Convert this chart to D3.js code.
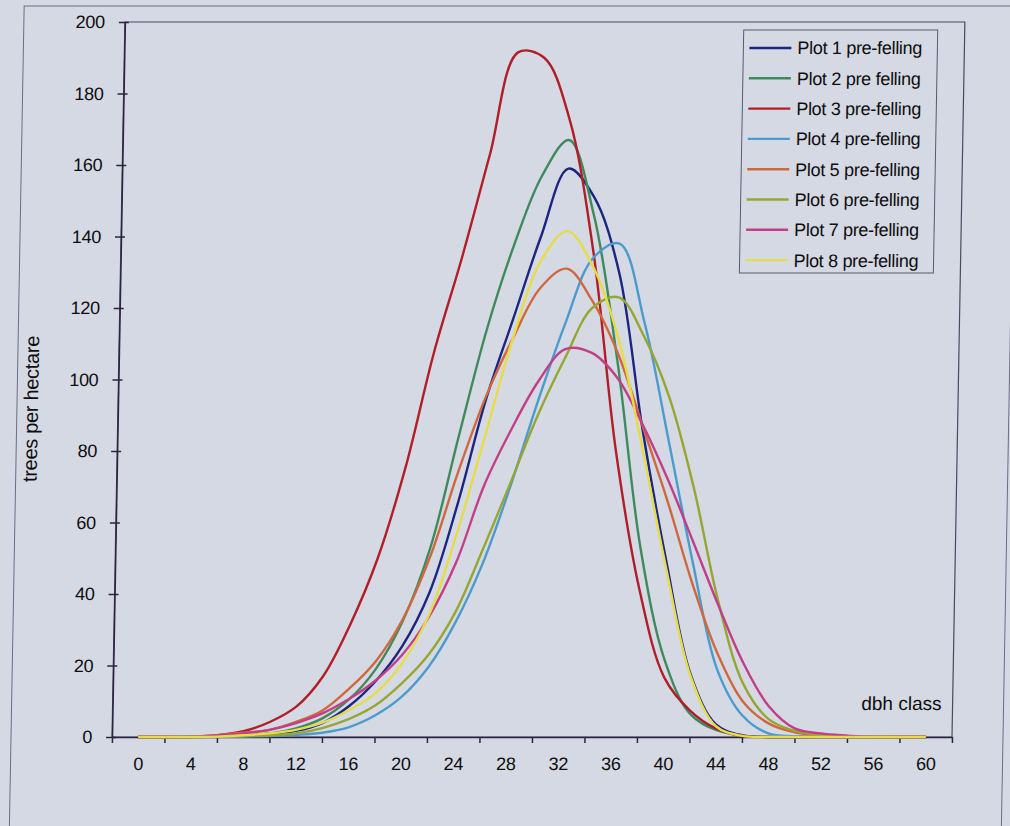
<!DOCTYPE html>
<html>
<head>
<meta charset="utf-8">
<script src="https://cdn.jsdelivr.net/npm/d3@7"></script>
<style>
  body { margin: 0; background: #d5d9e4; }
  svg { display: block; }
  text { font-family: "Liberation Sans", Arial, Helvetica, sans-serif; fill: #0e0e0e; }
</style>
</head>
<body>
<div id="chart"></div>
<script>
// dbh classes (cm) and trees per hectare
const dbhClass = [0, 2, 4, 6, 8, 10, 12, 14, 16, 18, 20, 22, 24, 26, 28, 30,
                  32, 34, 36, 38, 40, 42, 44, 46, 48, 50, 52, 54, 56, 58, 60];

const plot1 = [0, 0, 0, 0.1, 0.4, 0.9, 1.7, 3.9, 8.6, 15.6, 25.5, 40.5, 65, 94, 117, 140,
               159, 151, 130, 86, 49, 17.5, 3.5, 0.5, 0, 0, 0, 0, 0, 0, 0];
const plot2 = [0, 0, 0, 0.1, 0.5, 0.9, 2.4, 5.2, 10.5, 19, 32.5, 53, 84, 114, 138, 157,
               167, 146, 105, 53, 21.5, 6.5, 2, 0.4, 0, 0, 0, 0, 0, 0, 0];
const plot3 = [0, 0, 0.1, 0.5, 1.6, 4.2, 8.5, 17, 31.5, 50, 75.5, 107.5, 134, 163, 191.5, 190,
               173, 136, 80, 41, 16.6, 7.4, 2.4, 0.3, 0, 0, 0, 0, 0, 0, 0];
const plot4 = [0, 0, 0, 0, 0.1, 0.3, 0.6, 1.2, 2.7, 6, 11.2, 19.5, 32, 48.5, 70, 94,
               116, 134, 138, 116, 83, 49, 19, 6, 1, 0.2, 0, 0, 0, 0, 0];
const plot5 = [0, 0, 0, 0.5, 1.2, 2, 4.2, 7.4, 13.5, 21.2, 33, 50.5, 74, 95, 111.5, 125.5,
               131, 122, 107.5, 87, 66, 43, 23.5, 10, 3.8, 1.3, 0.4, 0, 0, 0, 0];
const plot6 = [0, 0, 0, 0.1, 0.3, 0.5, 1, 2.5, 5, 8.8, 15, 23, 35, 52.5, 71, 90,
               106, 120, 123, 112, 95, 69.5, 38, 15, 5, 1.7, 0.5, 0, 0, 0, 0];
const plot7 = [0, 0, 0, 0.4, 1, 2, 3.9, 6.6, 10.6, 15.8, 23, 33.7, 49, 70.3, 86, 99.5,
               108.5, 107.5, 100.5, 87.4, 72, 54.7, 37, 20.7, 8.6, 2.4, 1, 0.4, 0, 0, 0];
const plot8 = [0, 0, 0, 0.1, 0.5, 1, 2, 4, 7.5, 12.2, 20.6, 34.3, 57, 84, 111.5, 133,
               141.5, 131.6, 112, 81, 47, 17, 3, 0.3, 0, 0, 0, 0, 0, 0, 0];

const seriesNames = ['Plot 1 pre-felling', 'Plot 2 pre felling', 'Plot 3 pre-felling',
                     'Plot 4 pre-felling', 'Plot 5 pre-felling', 'Plot 6 pre-felling',
                     'Plot 7 pre-felling', 'Plot 8 pre-felling'];
const seriesColors = ['#1c2680', '#3f8a5c', '#b01e26', '#4b9bcd',
                      '#d0683e', '#97a632', '#c23f88', '#e6dc48'];
const seriesValues = [plot1, plot2, plot3, plot4, plot5, plot6, plot7, plot8];

const yTicks = [0, 20, 40, 60, 80, 100, 120, 140, 160, 180, 200];
const xTickLabels = [0, 4, 8, 12, 16, 20, 24, 28, 32, 36, 40, 44, 48, 52, 56, 60];

const width = 1010, height = 826;
const plotLeft = 112, plotRight = 952, plotTop = 22, plotBottom = 737;
// the scanned page leans slightly to the right towards the top
const lean = 0.018;

const svg = d3.select('#chart')
    .append('svg')
    .attr('width', width)
    .attr('height', height);

svg.append('rect')
    .attr('width', width)
    .attr('height', height)
    .attr('fill', '#d5d9e4');

const g = svg.append('g')
    .attr('transform', `translate(${(plotBottom * lean).toFixed(2)},0) skewX(${(-Math.atan(lean) * 180 / Math.PI).toFixed(3)})`);

// outer chart border
g.append('rect')
    .attr('x', 11).attr('y', 6)
    .attr('width', 992).attr('height', 900)
    .attr('fill', 'none')
    .attr('stroke', '#6e6c86')
    .attr('stroke-width', 1);

const x = d3.scaleLinear().domain([-2, 62]).range([plotLeft, plotRight]);
const y = d3.scaleLinear().domain([0, 200]).range([plotBottom, plotTop]);

// plot area border
g.append('rect')
    .attr('x', plotLeft).attr('y', plotTop)
    .attr('width', plotRight - plotLeft).attr('height', plotBottom - plotTop)
    .attr('fill', 'none')
    .attr('stroke', '#4c4864')
    .attr('stroke-width', 1.2);

// y axis
const yAxis = g.append('g')
    .attr('transform', `translate(${plotLeft},0)`)
    .call(d3.axisLeft(y).tickValues(yTicks).tickSize(6).tickSizeOuter(0).tickPadding(14));
yAxis.selectAll('.tick line').attr('x1', 4).attr('x2', -6);
yAxis.selectAll('text')
    .attr('font-size', 18)
    .attr('letter-spacing', -0.3)
    .attr('font-family', '"Liberation Sans", Arial, sans-serif')
    .attr('fill', '#0e0e0e');

// x axis labels (category centres)
const xAxis = g.append('g')
    .attr('transform', `translate(0,${plotBottom})`)
    .call(d3.axisBottom(x).tickValues(xTickLabels).tickSize(0).tickPadding(20));
xAxis.select('.domain').remove();
xAxis.selectAll('text')
    .attr('font-size', 18)
    .attr('letter-spacing', -0.3)
    .attr('font-family', '"Liberation Sans", Arial, sans-serif')
    .attr('fill', '#0e0e0e');

// x axis tick marks sit between the labels
const xTickMarks = xTickLabels.map(d => d - 2).concat([xTickLabels[xTickLabels.length - 1] + 2]);
g.append('g')
    .attr('transform', `translate(0,${plotBottom})`)
    .call(d3.axisBottom(x).tickValues(xTickMarks).tickSize(6).tickSizeOuter(0).tickFormat(''));

g.selectAll('.domain, .tick line')
    .attr('stroke', '#2b2540')
    .attr('stroke-width', 1.5);

// series lines
const line = d3.line()
    .x((d, i) => x(dbhClass[i]))
    .y(d => y(d))
    .curve(d3.curveCatmullRom.alpha(0.5));

g.append('g')
    .selectAll('path')
    .data(seriesValues)
    .enter()
    .append('path')
    .attr('d', line)
    .attr('fill', 'none')
    .attr('stroke', (d, i) => seriesColors[i])
    .attr('stroke-width', 2.4)
    .attr('stroke-linejoin', 'round');

// axis titles
g.append('text')
    .attr('transform', 'translate(25,409) rotate(-90)')
    .attr('text-anchor', 'middle')
    .attr('dy', '0.35em')
    .attr('font-size', 20)
    .attr('letter-spacing', -0.3)
    .text('trees per hectare');

g.append('text')
    .attr('x', 941)
    .attr('y', 710)
    .attr('text-anchor', 'end')
    .attr('font-size', 19)
    .text('dbh class');

// legend
const legend = g.append('g');
legend.append('rect')
    .attr('x', 731).attr('y', 30)
    .attr('width', 194).attr('height', 243)
    .attr('fill', 'none')
    .attr('stroke', '#5a5870')
    .attr('stroke-width', 1);

const rows = legend.selectAll('g.row')
    .data(seriesNames)
    .enter()
    .append('g')
    .attr('class', 'row')
    .attr('transform', (d, i) => `translate(0,${48 + i * 30.3})`);

rows.append('line')
    .attr('x1', 737).attr('x2', 779)
    .attr('stroke', (d, i) => seriesColors[i])
    .attr('stroke-width', 2.4);

rows.append('text')
    .attr('x', 785)
    .attr('dy', '0.36em')
    .attr('font-size', 18)
    .attr('letter-spacing', -0.3)
    .text(d => d);
</script>
</body>
</html>
